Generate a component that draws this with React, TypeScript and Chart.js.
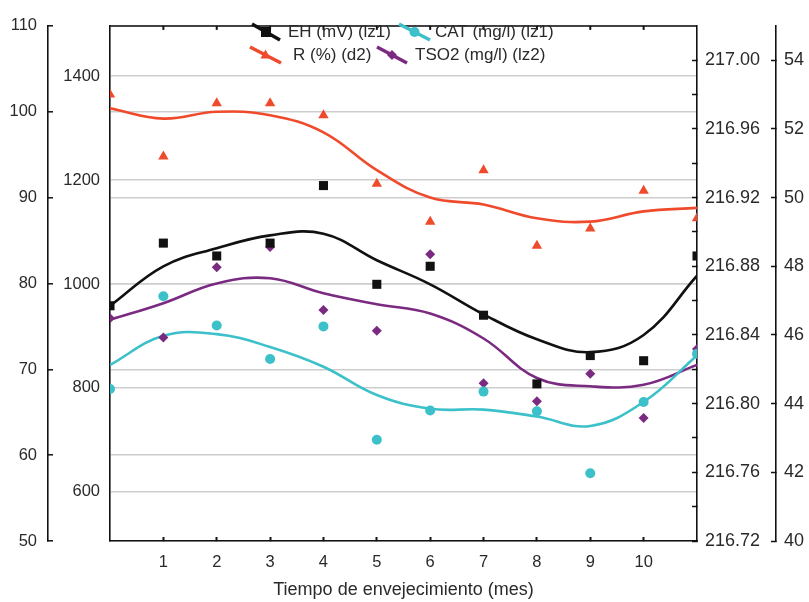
import React, { useEffect, useRef } from "react";
import { Chart, registerables } from "chart.js";

Chart.register(...registerables);

// ---- data ----
const months = [0, 1, 2, 3, 4, 5, 6, 7, 8, 9, 10, 11];
const xTicks = [1, 2, 3, 4, 5, 6, 7, 8, 9, 10];

const seriesNames = ["EH (mV) (lz1)", "CAT (mg/l) (lz1)", "R (%) (d2)", "TSO2 (mg/l) (lz2)"];

// EH (mV) - left outer axis (lz1)
const ehPoints = [77.4, 84.7, 83.2, 84.7, 91.4, 79.9, 82.0, 76.3, 68.3, 71.6, 71.0, 83.2];
const ehFit = [77.4, 82.0, 84.1, 85.6, 85.8, 82.7, 79.9, 76.4, 73.5, 72.0, 74.0, 80.9];
// CAT (mg/l) - left outer axis (lz1)
const catPoints = [67.7, 78.5, 75.1, 71.2, 75.0, 61.8, 65.2, 67.4, 65.1, 57.9, 66.2, 71.8];
const catFit = [70.5, 73.9, 74.1, 72.6, 70.3, 67.0, 65.4, 65.3, 64.5, 63.4, 66.2, 71.6];
// R (%) - right outer axis (d2)
const rPoints = [53.0, 51.2, 52.75, 52.75, 52.4, 50.4, 49.3, 50.8, 48.6, 49.1, 50.2, 49.4];
const rFit = [52.6, 52.3, 52.5, 52.4, 51.9, 50.8, 50.0, 49.8, 49.4, 49.3, 49.6, 49.7];
// TSO2 (mg/l) - left inner axis (lz2)
const tso2Points = [934, 897, 1032, 1071, 950, 910, 1057, 809, 774, 827, 742, 875];
const tso2Fit = [931, 963, 1001, 1011, 982, 961, 943, 895, 819, 803, 806, 844];

// axis ticks
const leftOuterTicks = [50, 60, 70, 80, 90, 100, 110];
const leftInnerTicks = [600, 800, 1000, 1200, 1400];
const rightInnerTicks = [216.72, 216.74, 216.76, 216.78, 216.8, 216.82, 216.84, 216.86, 216.88, 216.9, 216.92, 216.94, 216.96, 216.98, 217.0];
const rightOuterTicks = [40, 42, 44, 46, 48, 50, 52, 54];

const BLACK = "#111111";
const CYAN = "#3cc0c9";
const RED = "#f04a2c";
const PURPLE = "#7b2a82";
const TEXT = "#2a2a2a";
const GRID = "#cdcdcd";
const FONT = "'Liberation Sans', Arial, Helvetica, sans-serif";

const seriesColors = [BLACK, CYAN, RED, PURPLE];
const seriesMarkers = ["rect", "circle", "triangle", "diamond"];

function drawMarker(ctx: CanvasRenderingContext2D, kind: string, x: number, y: number, r: number) {
  ctx.beginPath();
  if (kind === "rect") {
    ctx.rect(x - r, y - r, 2 * r, 2 * r);
  } else if (kind === "circle") {
    ctx.arc(x, y, r, 0, Math.PI * 2);
  } else if (kind === "triangle") {
    ctx.moveTo(x, y - r * 1.1);
    ctx.lineTo(x - r, y + r * 0.7);
    ctx.lineTo(x + r, y + r * 0.7);
    ctx.closePath();
  } else {
    ctx.moveTo(x, y - r);
    ctx.lineTo(x + r, y);
    ctx.lineTo(x, y + r);
    ctx.lineTo(x - r, y);
    ctx.closePath();
  }
  ctx.fill();
}

const framePlugin = {
  id: "frame",
  afterDraw(chart: any) {
    const { ctx, chartArea: a, scales } = chart;
    ctx.save();
    // top border + inward x ticks
    ctx.strokeStyle = BLACK;
    ctx.lineWidth = 1.5;
    ctx.beginPath();
    ctx.moveTo(a.left, a.top);
    ctx.lineTo(a.right, a.top);
    ctx.stroke();
    ctx.lineWidth = 2;
    xTicks.forEach((v) => {
      const px = scales.x.getPixelForValue(v);
      ctx.beginPath();
      ctx.moveTo(px, a.top);
      ctx.lineTo(px, a.top + 4);
      ctx.stroke();
    });

    // legend (two rows inside plot top)
    const items = [
      { x1: 252, y1: 24, x2: 280, y2: 40, tx: 288, ty: 32 },
      { x1: 399, y1: 24, x2: 430, y2: 40, tx: 435, ty: 32 },
      { x1: 250, y1: 47, x2: 281, y2: 63, tx: 293, ty: 55 },
      { x1: 377, y1: 47, x2: 407, y2: 63, tx: 415, ty: 55 },
    ];
    items.forEach((it, i) => {
      ctx.strokeStyle = seriesColors[i];
      ctx.fillStyle = seriesColors[i];
      ctx.lineWidth = 3.5;
      ctx.beginPath();
      ctx.moveTo(it.x1, it.y1);
      ctx.lineTo(it.x2, it.y2);
      ctx.stroke();
      drawMarker(ctx, seriesMarkers[i], (it.x1 + it.x2) / 2, (it.y1 + it.y2) / 2, 5);
      ctx.fillStyle = TEXT;
      ctx.font = `17px ${FONT}`;
      ctx.textAlign = "left";
      ctx.textBaseline = "middle";
      ctx.fillText(seriesNames[i], it.tx, it.ty);
    });
    ctx.restore();
  },
};

export default function App() {
  const ref = useRef<HTMLCanvasElement>(null);

  useEffect(() => {
    const canvas = ref.current;
    if (!canvas) return;
    const pts = (arr: number[]) => months.map((m, i) => ({ x: m, y: arr[i] }));

    const fitLine = (data: number[], color: string, axis: string) => ({
      type: "line" as const,
      data: pts(data),
      yAxisID: axis,
      borderColor: color,
      borderWidth: 2.6,
      pointRadius: 0,
      pointHoverRadius: 0,
      tension: 0.4,
      fill: false,
      order: 2,
      clip: 0,
    });
    const scatter = (data: number[], color: string, axis: string, style: string, r: number) => ({
      type: "scatter" as const,
      data: pts(data),
      yAxisID: axis,
      backgroundColor: color,
      borderColor: color,
      borderWidth: 0,
      pointStyle: style,
      pointRadius: r,
      pointHoverRadius: r,
      order: 1,
      clip: 0,
    });

    const leftTickFont = { family: FONT, size: 16.5 };
    const rightTickFont = { family: FONT, size: 18 };
    const plain = (v: any) => String(v);

    const chart = new Chart(canvas, {
      type: "scatter",
      data: {
        datasets: [
          fitLine(ehFit, BLACK, "yL1"),
          fitLine(catFit, CYAN, "yL1"),
          fitLine(rFit, RED, "yR2"),
          fitLine(tso2Fit, PURPLE, "yL2"),
          scatter(ehPoints, BLACK, "yL1", "rect", 6.4),
          scatter(catPoints, CYAN, "yL1", "circle", 5),
          scatter(rPoints, RED, "yR2", "triangle", 6),
          scatter(tso2Points, PURPLE, "yL2", "rectRot", 5),
        ] as any,
      },
      options: {
        animation: false,
        responsive: false,
        devicePixelRatio: 1,
        layout: { padding: { top: 20, left: 0, right: 0, bottom: 0 } },
        plugins: { legend: { display: false }, tooltip: { enabled: false } },
        scales: {
          x: {
            type: "linear",
            position: "bottom",
            min: 0,
            max: 11,
            afterBuildTicks: (s: any) => {
              s.ticks = xTicks.map((v) => ({ value: v }));
            },
            afterFit: (s: any) => {
              s.height = 61;
            },
            grid: { drawOnChartArea: false, tickLength: -4, tickColor: BLACK, tickWidth: 2 },
            border: { display: true, color: BLACK, width: 1.5 },
            ticks: { font: leftTickFont, color: TEXT, padding: 16, maxRotation: 0, autoSkip: false, callback: plain },
            title: {
              display: true,
              text: "Tiempo de envejecimiento (mes)",
              font: { family: FONT, size: 18 },
              color: TEXT,
              padding: { top: 1, bottom: 1 },
            },
          },
          yL1: {
            type: "linear",
            position: "left",
            weight: 1,
            min: 50,
            max: 110,
            afterBuildTicks: (s: any) => {
              s.ticks = leftOuterTicks.map((v) => ({ value: v }));
            },
            afterFit: (s: any) => {
              s.width = 48;
            },
            grid: { color: GRID, lineWidth: 1.6, tickLength: -5, tickColor: BLACK, tickWidth: 1.5 },
            border: { display: true, color: BLACK, width: 1.6 },
            ticks: { font: leftTickFont, color: TEXT, padding: 16, callback: plain },
          },
          yL2: {
            type: "linear",
            position: "left",
            weight: 0,
            min: 505,
            max: 1497,
            afterBuildTicks: (s: any) => {
              s.ticks = leftInnerTicks.map((v) => ({ value: v }));
            },
            afterFit: (s: any) => {
              s.width = 62;
            },
            grid: { color: GRID, lineWidth: 1.6, drawTicks: false },
            border: { display: true, color: BLACK, width: 1.6 },
            ticks: { font: leftTickFont, color: TEXT, padding: 10, callback: plain },
          },
          yR1: {
            type: "linear",
            position: "right",
            weight: 0,
            min: 216.72,
            max: 217.02,
            afterBuildTicks: (s: any) => {
              s.ticks = rightInnerTicks.map((v) => ({ value: v }));
            },
            afterFit: (s: any) => {
              s.width = 79;
            },
            grid: { drawOnChartArea: false, tickLength: -5, tickColor: BLACK, tickWidth: 1.5 },
            border: { display: true, color: BLACK, width: 1.6 },
            ticks: {
              font: rightTickFont,
              color: TEXT,
              padding: 13,
              callback: (v: any, i: number) => (i % 2 === 0 ? Number(v).toFixed(2) : ""),
            },
          },
          yR2: {
            type: "linear",
            position: "right",
            weight: 1,
            min: 40,
            max: 55,
            afterBuildTicks: (s: any) => {
              s.ticks = rightOuterTicks.map((v) => ({ value: v }));
            },
            afterFit: (s: any) => {
              s.width = 33;
            },
            grid: { drawOnChartArea: false, tickLength: -5, tickColor: BLACK, tickWidth: 1.5 },
            border: { display: true, color: BLACK, width: 1.6 },
            ticks: { font: rightTickFont, color: TEXT, padding: 13, callback: plain },
          },
        },
      } as any,
      plugins: [framePlugin],
    });

    return () => chart.destroy();
  }, []);

  return (
    <div style={{ position: "absolute", left: 0, top: 0, width: 809, height: 602, background: "#fff" }}>
      <canvas ref={ref} width={809} height={602} style={{ display: "block" }} />
    </div>
  );
}
